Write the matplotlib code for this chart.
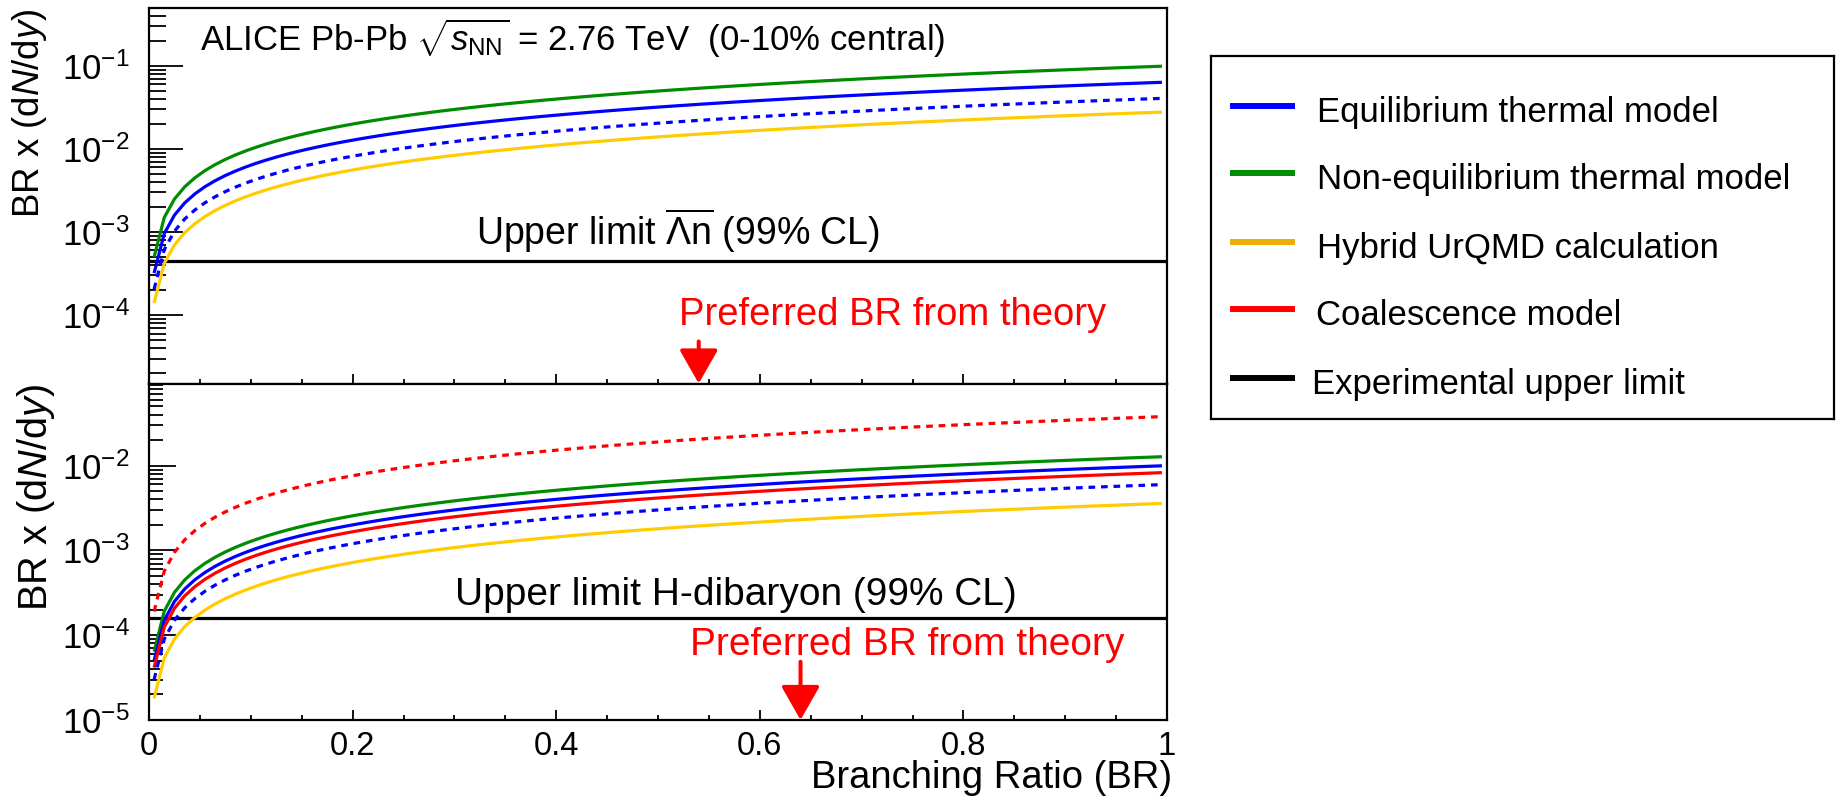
import numpy as np
import matplotlib
matplotlib.use("Agg")
import matplotlib.pyplot as plt
from matplotlib.ticker import MultipleLocator, LogLocator, NullFormatter, FormatStrFormatter

plt.rcParams['font.family'] = ['Liberation Sans', 'DejaVu Sans']
plt.rcParams['mathtext.fontset'] = 'custom'
plt.rcParams['mathtext.rm'] = 'Liberation Sans'
plt.rcParams['mathtext.it'] = 'Liberation Sans:italic'
plt.rcParams['mathtext.bf'] = 'Liberation Sans:bold'
plt.rcParams['axes.unicode_minus'] = False
plt.rcParams['lines.scale_dashes'] = False

# ---------------- data ----------------
# branching-ratio sampling of the model curves (bin centres)
br_grid = np.linspace(0.005, 0.995, 100)

# model dN/dy yields (value of BR x dN/dy at BR = 1)
lambdan_eq = 0.064        # equilibrium thermal model
lambdan_eq_alt = 0.041    # equilibrium thermal model (dashed)
lambdan_noneq = 0.100     # non-equilibrium thermal model
lambdan_urqmd = 0.028     # hybrid UrQMD
lambdan_limit = 4.54e-4   # experimental upper limit (99% CL)
lambdan_br_pref = 0.54

h_eq = 0.0100
h_eq_alt = 0.0060
h_noneq = 0.0128
h_urqmd = 0.0036
h_coal = 0.0083
h_coal_alt = 0.038
h_limit = 1.585e-4
h_br_pref = 0.64

legend_labels = ['Equilibrium thermal model', 'Non-equilibrium thermal model',
                 'Hybrid UrQMD calculation', 'Coalescence model',
                 'Experimental upper limit']

C_BLUE = '#0000ff'
C_GREEN = '#008c00'
C_YELLOW = '#ffcc00'
C_YELLOW_LEG = '#eeae0a'
C_RED = '#ff0000'
C_BLACK = '#000000'
legend_colors = [C_BLUE, C_GREEN, C_YELLOW_LEG, C_RED, C_BLACK]

W, H = 1849, 799
fig = plt.figure(figsize=(W / 100, H / 100), dpi=100)

L, R = 149, 1167
T1, B1 = 8, 383.5
T2, B2 = 383.5, 720
ax1 = fig.add_axes([L / W, 1 - B1 / H, (R - L) / W, (B1 - T1) / H])
ax2 = fig.add_axes([L / W, 1 - B2 / H, (R - L) / W, (B2 - T2) / H])

LW = 2.3
DASH = (0, (4.8, 4.2))


def curve(ax, yld, color, ls='-'):
    ax.plot(br_grid, br_grid * yld, color=color, lw=LW,
            linestyle=DASH if ls == '--' else '-', solid_capstyle='butt')


# top panel (anti-Lambda n)
ax1.axhline(lambdan_limit, color=C_BLACK, lw=2.3)
curve(ax1, lambdan_noneq, C_GREEN)
curve(ax1, lambdan_eq, C_BLUE)
curve(ax1, lambdan_eq_alt, C_BLUE, '--')
curve(ax1, lambdan_urqmd, C_YELLOW)

# bottom panel (H-dibaryon)
ax2.axhline(h_limit, color=C_BLACK, lw=2.3)
curve(ax2, h_coal_alt, C_RED, '--')
curve(ax2, h_noneq, C_GREEN)
curve(ax2, h_eq, C_BLUE)
curve(ax2, h_coal, C_RED)
curve(ax2, h_eq_alt, C_BLUE, '--')
curve(ax2, h_urqmd, C_YELLOW)

ax1.set_ylim(1.5e-5, 0.5)
ax2.set_ylim(1e-5, 0.093)
for ax, ymaj, ymin in ((ax1, 24.5, 12.2), (ax2, 19.4, 10.0)):
    ax.set_yscale('log')
    ax.set_xlim(0, 1)
    ax.xaxis.set_major_locator(MultipleLocator(0.2))
    ax.xaxis.set_minor_locator(MultipleLocator(0.05))
    ax.xaxis.set_major_formatter(FormatStrFormatter('%g'))
    ax.yaxis.set_major_locator(LogLocator(base=10, numticks=20))
    ax.yaxis.set_minor_locator(LogLocator(base=10, subs=np.arange(2, 10), numticks=20))
    ax.yaxis.set_minor_formatter(NullFormatter())
    ax.tick_params(which='both', direction='in', top=False, right=False, width=1.3)
    ax.tick_params(axis='x', which='major', length=7.2)
    ax.tick_params(axis='x', which='minor', length=3.6)
    ax.tick_params(axis='y', which='major', length=ymaj, labelsize=25, pad=14)
    ax.tick_params(axis='y', which='minor', length=ymin)
    for s in ax.spines.values():
        s.set_linewidth(1.6)

ax1.tick_params(axis='x', labelbottom=False)
ax2.tick_params(axis='x', labelsize=23.5, pad=8)

# texts
ax1.text(0.050, 0.885, r'ALICE Pb-Pb $\sqrt{s_{\rm NN}}$ = 2.76 TeV  (0-10% central)',
         transform=ax1.transAxes, fontsize=25, va='baseline', ha='left')
ax1.text(0.321, 0.368, r'Upper limit $\overline{\Lambda\mathrm{n}}$ (99% CL)',
         transform=ax1.transAxes, fontsize=27, va='baseline', ha='left')
ax1.text(0.521, 0.155, 'Preferred BR from theory', color=C_RED,
         transform=ax1.transAxes, fontsize=27.5, va='baseline', ha='left')
ax2.text(0.3006, 0.342, 'Upper limit H-dibaryon (99% CL)',
         transform=ax2.transAxes, fontsize=28, va='baseline', ha='left')
ax2.text(0.531, 0.193, 'Preferred BR from theory', color=C_RED,
         transform=ax2.transAxes, fontsize=28, va='baseline', ha='left')

arrow_kw = dict(arrowstyle='-|>,head_length=20.9,head_width=11.9', mutation_scale=1,
                color=C_RED, lw=2.9, shrinkA=0, shrinkB=0)
ax1.annotate('', xy=(lambdan_br_pref, 0), xycoords=('data', 'axes fraction'),
             xytext=(lambdan_br_pref, 0.112), textcoords=('data', 'axes fraction'),
             arrowprops=arrow_kw)
ax2.annotate('', xy=(h_br_pref, 0), xycoords=('data', 'axes fraction'),
             xytext=(h_br_pref, 0.173), textcoords=('data', 'axes fraction'),
             arrowprops=arrow_kw)

fig.text(30 / W, 1 - 113 / H, r'BR x (d$N$/d$y$)', rotation=90, fontsize=26.4,
         ha='center', va='center')
fig.text(36 / W, 1 - 497 / H, r'BR x (d$N$/d$y$)', rotation=90, fontsize=28.6,
         ha='center', va='center')
fig.text(1172 / W, 1 - 788 / H, 'Branching Ratio (BR)', fontsize=27.5,
         ha='right', va='baseline')

# legend
LX0, LX1, LY0, LY1 = 1211, 1834, 56, 419
lax = fig.add_axes([LX0 / W, 1 - LY1 / H, (LX1 - LX0) / W, (LY1 - LY0) / H])
lax.set_xlim(LX0, LX1)
lax.set_ylim(LY1, LY0)
lax.set_xticks([])
lax.set_yticks([])
for s in lax.spines.values():
    s.set_linewidth(1.6)
leg_y = [106, 173, 242, 309, 378]
leg_tx = [1317, 1317, 1317, 1316, 1312]
for lab, col, y, tx in zip(legend_labels, legend_colors, leg_y, leg_tx):
    lax.plot([1230, 1295], [y, y], color=col, lw=4.3, solid_capstyle='butt')
    lax.text(tx, y + 16, lab, fontsize=25, ha='left', va='baseline')

fig.savefig('out.png', dpi=100)
